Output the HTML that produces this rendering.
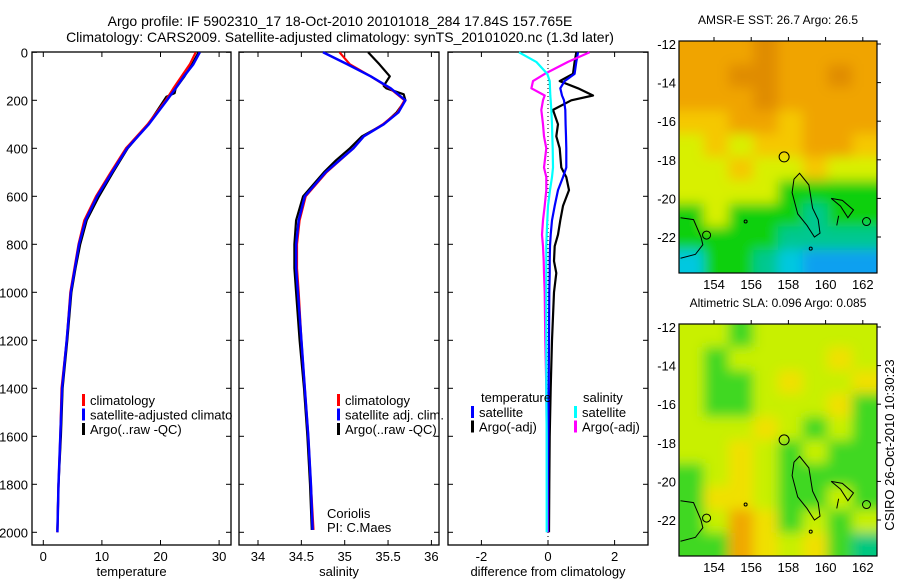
<!DOCTYPE html>
<html><head><meta charset="utf-8"><style>
body{margin:0;background:#fff;width:900px;height:580px;overflow:hidden}
svg{display:block;font-family:"Liberation Sans",sans-serif}
text{fill:#000}
</style></head><body>
<svg id="fig" width="900" height="580" viewBox="0 0 900 580">
<text x="340" y="26" font-size="14" text-anchor="middle">Argo profile: IF 5902310_17 18-Oct-2010 20101018_284 17.84S 157.765E</text>
<text x="340" y="42" font-size="14" text-anchor="middle">Climatology: CARS2009. Satellite-adjusted climatology: synTS_20101020.nc (1.3d later)</text>
<g id="p1"></g>
<g id="p2"></g>
<g id="p3"></g>
<g id="m1"></g>
<g id="m2"></g>
<text transform="translate(894,445) rotate(-90)" font-size="13" text-anchor="middle">CSIRO 26-Oct-2010 10:30:23</text>
</svg>
<script>
// ---- data ----
const depthT = [0,50,100,150,200,300,400,500,600,700,800,900,1000,1200,1400,1600,1800,2000];
const tempClim = [26.0,25.0,23.6,22.2,20.9,17.8,14.1,11.5,9.0,7.0,6.0,5.3,4.6,4.0,3.1,2.9,2.6,2.4];
const tempSat  = [26.7,25.6,24.0,22.6,21.1,18.0,14.3,11.7,9.2,7.2,6.1,5.4,4.7,4.0,3.2,2.9,2.6,2.4];
const depthA = [0,50,100,150,170,185,200,300,400,500,600,700,800,900,1000,1200,1400,1600,1800,1990];
const tempArgo = [26.5,25.4,24.1,22.6,22.4,21.0,20.6,17.9,14.4,11.9,9.5,7.4,6.3,5.5,4.8,4.1,3.3,3.0,2.6,2.4];
const depthS = [0,50,100,150,200,250,300,350,400,500,600,700,800,900,1000,1200,1400,1600,1800,1990];
const salClim = [34.94,35.06,35.30,35.52,35.69,35.61,35.44,35.22,35.10,34.79,34.55,34.48,34.45,34.45,34.47,34.50,34.54,34.58,34.61,34.64];
const salSat  = [34.75,35.03,35.30,35.53,35.70,35.62,35.45,35.22,35.10,34.78,34.54,34.47,34.44,34.44,34.46,34.50,34.54,34.58,34.61,34.63];
const depthSA = [0,50,100,140,150,175,200,250,300,350,400,450,500,600,700,800,900,1000,1200,1400,1600,1800,1990];
const salArgo = [35.27,35.40,35.52,35.45,35.48,35.68,35.70,35.60,35.45,35.20,35.06,34.90,34.76,34.52,34.44,34.42,34.42,34.44,34.48,34.53,34.57,34.60,34.62];
const depthD = [0,40,90,120,150,180,200,240,300,350,400,480,520,574,640,700,760,808,870,920,1000,1200,1400,1600,1800,2000];
const dTempSat  = [0.9,0.85,0.8,0.5,0.37,0.42,0.48,0.52,0.53,0.54,0.55,0.55,0.45,0.30,0.20,0.12,0.08,0.06,0.05,0.05,0.04,0.03,0.02,0.01,0.0,0.0];
const dTempArgo = [0.85,0.8,0.75,0.35,0.9,1.35,0.7,0.15,0.3,0.25,0.35,0.4,0.55,0.63,0.45,0.37,0.30,0.2,0.18,0.25,0.18,0.12,0.08,0.05,0.04,0.03];
const dSalSat   = [-0.87,-0.35,-0.02,0.05,0.06,0.07,0.08,0.1,0.12,0.13,0.14,0.15,0.12,0.06,0.0,-0.02,-0.04,-0.05,-0.05,-0.05,-0.05,-0.05,-0.05,-0.04,-0.04,-0.04];
const dSalArgo  = [1.25,0.6,-0.1,-0.45,-0.5,-0.1,-0.15,-0.2,-0.15,-0.12,-0.05,-0.12,-0.05,-0.05,-0.1,-0.15,-0.18,-0.15,-0.13,-0.12,-0.1,-0.08,-0.05,-0.04,-0.03,-0.02];
const depthTicks = [0,200,400,600,800,1000,1200,1400,1600,1800,2000];
const tempTicks = [0,10,20,30];
const salTicks = [34,34.5,35,35.5,36];
const diffTicks = [-2,0,2];
const lonTicks = [154,156,158,160,162];
const latTicks = [-12,-14,-16,-18,-20,-22];
const sstGrid = ["OOODOOOO","OODDOODO","OOODOOOO","YYOOYOOO","LYLYYOOY","LLYLLYLL","LLLLGGGG","GLGGGTGG","GGGGTTTT","CGGTCBBB"];
const slaGrid = ["LLGLLLLL","LGLLLLYL","LGGLYLLY","LGGLLLYG","LLLYLGLG","LLYLGLGG","GLYLGGGG","GYYLGGLG","GLOYGLGL","GGOYLYGT"];

const NS="http://www.w3.org/2000/svg";
function el(tag, attrs, parent){const e=document.createElementNS(NS,tag);for(const k in attrs)e.setAttribute(k,attrs[k]);parent.appendChild(e);return e;}
const yD = d => 52.3 + d*0.24;
function panel(g, x0, x1, xs, ticks, fmt, title, tickLabelsY){
  const top=52, bot=545;
  const fr=el('rect',{x:x0,y:top,width:x1-x0,height:bot-top,fill:'none',stroke:'#000','stroke-width':1.3},g);
  
  
  ticks.forEach(t=>{const x=xs(t);
    el('line',{x1:x,x2:x,y1:bot,y2:bot-5,stroke:'#000'},g);
    el('line',{x1:x,x2:x,y1:top,y2:top+5,stroke:'#000'},g);
    const tx=el('text',{x:x,y:561,'font-size':13,'text-anchor':'middle'},g);tx.textContent=fmt(t);
    
    
  });
  depthTicks.forEach(d=>{const y=yD(d);
    el('line',{x1:x0,x2:x0+5,y1:y,y2:y,stroke:'#000'},g);
    el('line',{x1:x1,x2:x1-5,y1:y,y2:y,stroke:'#000'},g);
    if(tickLabelsY){const t=el('text',{x:28,y:y+5,'font-size':13,'text-anchor':'end'},g);t.textContent=d;
      
      }
  });
  const at=el('text',{x:(x0+x1)/2,y:576,'font-size':13,'text-anchor':'middle'},g);at.textContent=title;
  
  
}
function line(g, xs, depths, vals, color, w, name){
  const pts=depths.map((d,i)=>xs(vals[i]).toFixed(1)+','+yD(d).toFixed(1)).join(' ');
  const p=el('polyline',{points:pts,fill:'none',stroke:color,'stroke-width':w,'stroke-linejoin':'round'},g);
  
  
}
function legend(g, x, y, items){
  items.forEach((it,i)=>{const yy=y+i*14.5;
    el('rect',{x:x,y:yy-10,width:3,height:12,fill:it[0]},g);
    const t=el('text',{x:x+8,y:yy+1,'font-size':13},g);t.textContent=it[1];
    
    
  });
}
// panel 1
const p1=document.getElementById('p1');
const xT=v=>43.3+v*5.86;
panel(p1,32,231,xT,tempTicks,String,'temperature',true);
line(p1,xT,depthA,tempArgo,'#000',2.2,'argo-temperature-line');
line(p1,xT,depthT,tempClim,'#f00',2.2,'climatology-temperature-line');
line(p1,xT,depthT,tempSat,'#00f',2.5,'satellite-temperature-line');
legend(p1,82,404,[['#f00','climatology'],['#00f','satellite-adjusted climatology'],['#000','Argo(..raw -QC)']]);
// panel 2
const p2=document.getElementById('p2');
el('rect',{x:233,y:52,width:213,height:494,fill:'#fff'},p2);
const xS=v=>258+(v-34)*86.7;
panel(p2,239,439,xS,salTicks,String,'salinity',false);
line(p2,xS,depthSA,salArgo,'#000',2.2,'argo-salinity-line');
line(p2,xS,depthS,salClim,'#f00',2.2,'climatology-salinity-line');
line(p2,xS,depthS,salSat,'#00f',2.5,'satellite-salinity-line');
legend(p2,337,404,[['#f00','climatology'],['#00f','satellite adj. clim.'],['#000','Argo(..raw -QC)']]);
let t1=el('text',{x:327,y:518,'font-size':13},p2);t1.textContent='Coriolis';
let t2=el('text',{x:327,y:532,'font-size':13},p2);t2.textContent='PI: C.Maes';
// panel 3
const p3=document.getElementById('p3');
const xDf=v=>548+v*33.3;
panel(p3,448,648,xDf,diffTicks,String,'difference from climatology',false);
el('line',{x1:548,x2:548,y1:52,y2:545,stroke:'#000','stroke-dasharray':'1,3'},p3);
line(p3,xDf,depthD,dTempArgo,'#000',2.2,'argo-temperature-diff-line');
line(p3,xDf,depthD,dTempSat,'#00f',2.2,'satellite-temperature-diff-line');
line(p3,xDf,depthD,dSalArgo,'#f0f',2.2,'argo-salinity-diff-line');
line(p3,xDf,depthD,dSalSat,'#0ff',2.2,'satellite-salinity-diff-line');
let t3=el('text',{x:481,y:402,'font-size':13},p3);t3.textContent='temperature';
let t4=el('text',{x:583,y:402,'font-size':13},p3);t4.textContent='salinity';
legend(p3,471,416,[['#00f','satellite'],['#000','Argo(-adj)']]);
legend(p3,574,416,[['#0ff','satellite'],['#f0f','Argo(-adj)']]);
// maps
const sstCol={O:'#f0a400',D:'#e08c00',Y:'#f5c800',L:'#d8f000',G:'#10d010',T:'#00c890',C:'#00c8e0',B:'#10a0f0'};
const slaCol={L:'#c8f000',G:'#40d820',Y:'#f0e000',O:'#f0a800',T:'#00c880'};
function map(g, top, grid, cols, title, id){
  const x0=679,x1=877,bot=top+232;
  const lonX=l=>714+(l-154)*18.6, latY=l=>top+3+(-12-l)*19.3;
  el('clipPath',{id:id},g).appendChild(Object.assign(document.createElementNS(NS,'rect'),{}));
  const cp=g.querySelector('clipPath rect');cp.setAttribute('x',x0);cp.setAttribute('y',top);cp.setAttribute('width',x1-x0);cp.setAttribute('height',bot-top);
  const f=el('filter',{id:id+'f',x:'-10%',y:'-10%',width:'120%',height:'120%'},g);
  el('feGaussianBlur',{stdDeviation:6},f);
  const cg=el('g',{'clip-path':'url(#'+id+')'},g);
  el('rect',{x:x0,y:top,width:x1-x0,height:bot-top,fill:cols[grid[5][3]]},cg);
  const bg=el('g',{filter:'url(#'+id+'f)'},cg);
  const cw=(x1-x0)/8,ch=(bot-top)/10;
  grid.forEach((row,r)=>row.split('').forEach((c,k)=>{
    const cell=el('rect',{x:x0+k*cw-(k==0?15:0),y:top+r*ch-(r==0?15:0),width:cw+(k==0||k==7?15:0)+0.5,height:ch+(r==0||r==9?15:0)+0.5,fill:cols[c]},bg);
    
    
  }));
  const coast=[[[158.3,-19.0],[158.6,-18.7],[159.1,-19.3],[159.3,-20.5],[159.6,-21.1],[159.7,-21.8],[159.4,-22.0],[159.0,-21.4],[158.5,-20.8],[158.2,-19.7],[158.3,-19.0]],
    [[160.3,-20.0],[160.9,-20.1],[161.5,-20.6],[161.2,-21.0],[160.8,-20.4],[160.3,-20.0]],
    [[152.2,-21.0],[152.9,-21.1],[153.3,-22.0],[153.4,-22.4],[153.0,-22.9],[152.2,-23.1]],
    [[163.2,-17.7],[162.9,-18.0],[162.8,-18.6],[163.1,-19.2]],
    [[160.7,-20.9],[160.6,-21.4]]];
  coast.forEach(c=>{const p=el('polyline',{points:c.map(q=>lonX(q[0])+','+latY(q[1])).join(' '),fill:'none',stroke:'#000','stroke-width':1},cg);
    
    });
  [[162.2,-21.2,4],[153.6,-21.9,4],[155.7,-21.2,1.5],[159.2,-22.6,1.5]].forEach(c=>el('circle',{cx:lonX(c[0]),cy:latY(c[1]),r:c[2],fill:'none',stroke:'#000'},cg));
  const pc=el('circle',{cx:lonX(157.77),cy:latY(-17.85),r:5,fill:'none',stroke:'#000'},cg);
  
  
  el('rect',{x:x0,y:top,width:x1-x0,height:bot-top,fill:'none',stroke:'#000','stroke-width':1.2},g);
  lonTicks.forEach(l=>{const x=lonX(l);
    el('line',{x1:x,x2:x,y1:top,y2:top-4,stroke:'#000'},g);
    const t=el('text',{x:x,y:bot+16,'font-size':13,'text-anchor':'middle'},g);t.textContent=l;
    
    });
  latTicks.forEach(l=>{const y=latY(l);
    el('line',{x1:x1,x2:x1+4,y1:y,y2:y,stroke:'#000'},g);
    const t=el('text',{x:676,y:y+5,'font-size':13,'text-anchor':'end'},g);t.textContent=l;
    
    });
  const tt=el('text',{x:778,y:top-17,'font-size':12,'text-anchor':'middle'},g);tt.textContent=title;
  
  
}
map(document.getElementById('m1'),41,sstGrid,sstCol,'AMSR-E SST: 26.7 Argo: 26.5','c1');
map(document.getElementById('m2'),324,slaGrid,slaCol,'Altimetric SLA: 0.096 Argo: 0.085','c2');
</script>
</body></html>
